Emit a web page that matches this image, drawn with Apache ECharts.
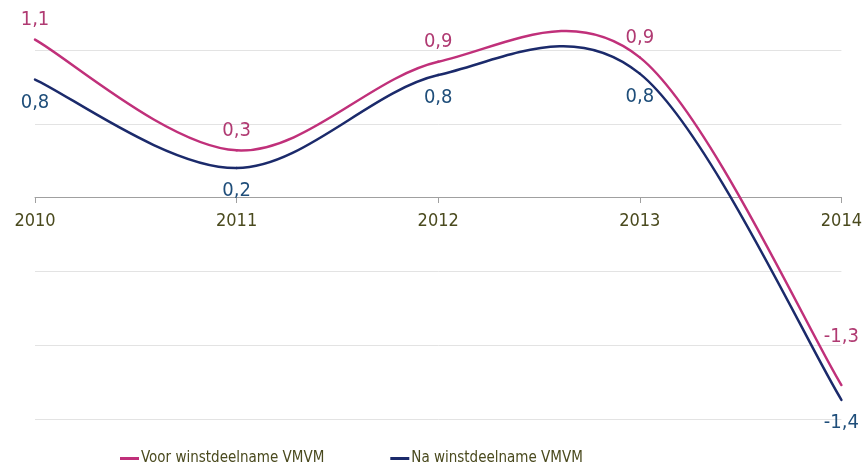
<!DOCTYPE html>
<html>
<head>
<meta charset="utf-8">
<script src="https://cdn.jsdelivr.net/npm/echarts@6/dist/echarts.min.js"></script>
<style>
  html, body { margin: 0; padding: 0; background: #fff; }
  #chart { width: 865px; height: 467px; }
</style>
</head>
<body>
<div id="chart"></div>
<script>
var jaren = ['2010', '2011', '2012', '2013', '2014'];
var voor = [1.07, 0.32, 0.92, 0.95, -1.27];
var na = [0.80, 0.20, 0.83, 0.84, -1.37];

var fnt = '"DejaVu Sans Condensed", "DejaVu Sans", sans-serif';

// vloeiende lijn zoals in Excel (catmull-rom -> bezier), via de assen van echarts
function maakRender(waarden, lijnKleur, tekstKleur, labelDy) {
    return function (params, api) {
        var i = params.dataIndex;
        var n = waarden.length;
        var p = waarden.map(function (v, k) { return api.coord([k, v]); });
        var kids = [];
        if (i < n - 1) {
            var a = p[Math.max(i - 1, 0)], b = p[i], c = p[i + 1], d = p[Math.min(i + 2, n - 1)];
            kids.push({
                type: 'bezierCurve',
                shape: {
                    x1: b[0], y1: b[1],
                    cpx1: b[0] + (c[0] - a[0]) / 6, cpy1: b[1] + (c[1] - a[1]) / 6,
                    cpx2: c[0] - (d[0] - b[0]) / 6, cpy2: c[1] - (d[1] - b[1]) / 6,
                    x2: c[0], y2: c[1]
                },
                style: { stroke: lijnKleur, lineWidth: 2.5, fill: null, lineCap: 'round' }
            });
        }
        kids.push({
            type: 'text',
            x: p[i][0],
            y: p[i][1] + labelDy(i),
            style: {
                text: waarden[i].toFixed(1).replace('.', ','),
                fill: tekstKleur,
                font: '20px ' + fnt,
                align: 'center',
                verticalAlign: 'middle'
            }
        });
        return { type: 'group', children: kids };
    };
}

var chart = echarts.init(document.getElementById('chart'));
var option = {
    animation: false,
    grid: {
        left: 35,
        right: 23,
        top: 50,
        bottom: 48
    },
    legend: {
        data: ['Voor winstdeelname VMVM', 'Na winstdeelname VMVM'],
        top: 446,
        left: 115,
        icon: 'rect',
        itemWidth: 19,
        itemHeight: 3,
        itemGap: 66,
        textStyle: {
            color: '#4a4a1e',
            fontSize: 15,
            fontFamily: fnt,
            padding: [0, 0, 0, -3]
        }
    },
    xAxis: {
        type: 'category',
        data: jaren,
        boundaryGap: false,
        offset: -222,
        axisLine: { onZero: false, lineStyle: { color: '#a0a0a0', width: 1 } },
        axisTick: { show: true, length: 6, lineStyle: { color: '#a0a0a0' } },
        axisLabel: {
            color: '#4a4a1e',
            fontSize: 18,
            fontFamily: fnt,
            margin: 15
        }
    },
    yAxis: {
        type: 'value',
        min: -1.5,
        max: 1,
        interval: 0.5,
        axisLabel: { show: false },
        axisLine: { show: false },
        axisTick: { show: false },
        splitLine: { lineStyle: { color: '#e3e3e3', width: 1 } }
    },
    series: [
        {
            name: 'Voor winstdeelname VMVM',
            type: 'custom',
            clip: false,
            itemStyle: { color: '#c0307a' },
            renderItem: maakRender(voor, '#c0307a', '#b03a72', function (i) {
                return i === 4 ? -48 : -20;
            }),
            data: voor.map(function (v, k) { return [k, v]; })
        },
        {
            name: 'Na winstdeelname VMVM',
            type: 'custom',
            clip: false,
            itemStyle: { color: '#1b2a6b' },
            renderItem: maakRender(na, '#1b2a6b', '#1f4e7a', function () {
                return 23;
            }),
            data: na.map(function (v, k) { return [k, v]; })
        }
    ]
};
chart.setOption(option);
</script>
</body>
</html>
